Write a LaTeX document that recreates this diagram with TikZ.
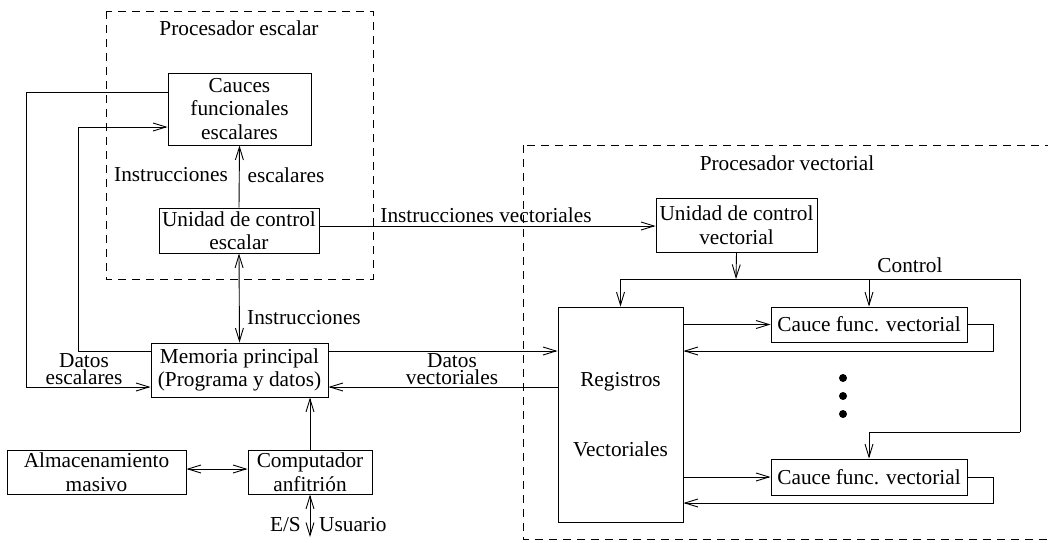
\documentclass[tikz,border=0pt]{standalone}
\usepackage{fontspec}
\setmainfont{Liberation Serif}
\usetikzlibrary{arrows.meta}
\begin{document}
\begin{tikzpicture}[x=1pt,y=-1pt,
  every node/.style={font=\fontsize{21.3}{23.5}\selectfont},
  line/.style={line width=0.9pt},
  blk/.style={draw, line width=0.9pt, inner sep=0pt, align=center, font=\fontsize{21.3}{23.5}\selectfont},
  arr/.style={line, -{Straight Barb[length=13pt,width=8pt,line width=0.9pt]}},
  dbl/.style={line, {Straight Barb[length=13pt,width=8pt,line width=0.9pt]}-{Straight Barb[length=13pt,width=8pt,line width=0.9pt]}},
  grp/.style={line width=0.9pt, dash pattern=on 8pt off 6pt},
  lbl/.style={inner sep=0pt, align=center},
  twoline/.style={inner sep=0pt, align=center, font=\fontsize{21.3}{17.5}\selectfont}]
\useasboundingbox (0,0) rectangle (1048,542);
\clip (0,0) rectangle (1048,542);

% processor outlines
\draw[grp] (106,11) rectangle (373,279);
\draw[grp] (523,145) rectangle (1052,539);
\node[lbl] (pesc) at (239,28) {Procesador escalar};
\node[lbl] (pvec) at (787,163) {Procesador vectorial};

% blocks
\node[blk, minimum width=143pt, minimum height=72pt] (cauces) at (239.5,109) {Cauces\\funcionales\\escalares};
\node[blk, minimum width=160pt, minimum height=45pt] (ucesc) at (239,230.5) {Unidad de control\\escalar};
\node[blk, minimum width=177pt, minimum height=54pt] (mem) at (239.5,370) {Memoria principal\\(Programa y datos)};
\node[blk, minimum width=179pt, minimum height=44pt] (alm) at (96.5,472) {Almacenamiento\\masivo};
\node[blk, minimum width=124pt, minimum height=44pt] (comp) at (310,472) {Computador\\anfitri\'on};
\node[blk, minimum width=161pt, minimum height=54pt] (ucvec) at (736.5,225) {Unidad de control\\vectorial};
\node[blk, minimum width=125pt, minimum height=215pt] (reg) at (620.5,414.5) {Registros\\[46pt]Vectoriales};
\node[blk, minimum width=196pt, minimum height=35pt] (cf1) at (869,324.5) {Cauce func. vectorial};
\node[blk, minimum width=196pt, minimum height=36pt] (cf2) at (869,477) {Cauce func. vectorial};

% scalar side
\draw[arr] (ucesc.north) -- (cauces.south);
\node[lbl] (iesc1) at (171,175) {Instrucciones};
\node[lbl] (iesc2) at (286,175) {escalares};
\draw[dbl] (ucesc.south) -- (mem.north);
\node[lbl, anchor=west] (instr) at (247,318) {Instrucciones};
\draw[arr] ([yshift=17pt]cauces.west) -- ++(-141,0) |- ([yshift=-17pt]mem.west);
\draw[arr] ([yshift=19pt]mem.west) -- ++(-72,0) |- ([yshift=-18pt]cauces.west);
\node[twoline] (desc) at (84,369) {Datos\\escalares};

% scalar to vector control
\draw[arr] ([yshift=4.5pt]ucesc.east) -- ([yshift=4.5pt]ucesc.east -| ucvec.west);
\node[lbl] (ivec) at (486,215) {Instrucciones vectoriales};

% control bus
\coordinate (bus) at (736,279);
\coordinate (busR) at (1020,279);
\draw[arr] (ucvec.south) -- (bus);
\draw[arr] (busR) -- (reg.north |- bus) -- (reg.north);
\draw[arr] (cf1.north |- bus) -- (cf1.north);
\draw[line] (busR) -- ++(0,153) coordinate (busD);
\draw[arr] (busD) -| (cf2.north);
\node[lbl] (ctl) at (910,265) {Control};

% registers and pipelines
\draw[arr] (reg.east |- cf1.west) -- (cf1.west);
\draw[arr] (cf1.east) -- ++(26,0) |- ([yshift=63.5pt]reg.east);
\draw[arr] (reg.east |- cf2.west) -- (cf2.west);
\draw[arr] (cf2.east) -- ++(26,0) |- ([yshift=-88.5pt]reg.east);
\foreach \yy in {378,396,414} \fill (843,\yy) circle (4pt);

% memory and vector registers
\draw[arr] ([yshift=19pt]mem.east) -- ([yshift=19pt]mem.east -| reg.west);
\draw[arr] ([yshift=-17pt]mem.east -| reg.west) -- ([yshift=-17pt]mem.east);
\node[twoline] (dvec) at (452,369) {Datos\\vectoriales};

% host side
\draw[dbl] ([yshift=3pt]alm.east) -- ([yshift=3pt]alm.east -| comp.west);
\draw[arr] (comp.north) -- (comp.north |- mem.south);
\coordinate (usr) at (310,537);
\draw[dbl] (comp.south) -- (usr);
\node[lbl, anchor=east] (es) at (301,525) {E/S};
\node[lbl, anchor=west] (usuario) at (319,525) {Usuario};
\end{tikzpicture}
\end{document}
